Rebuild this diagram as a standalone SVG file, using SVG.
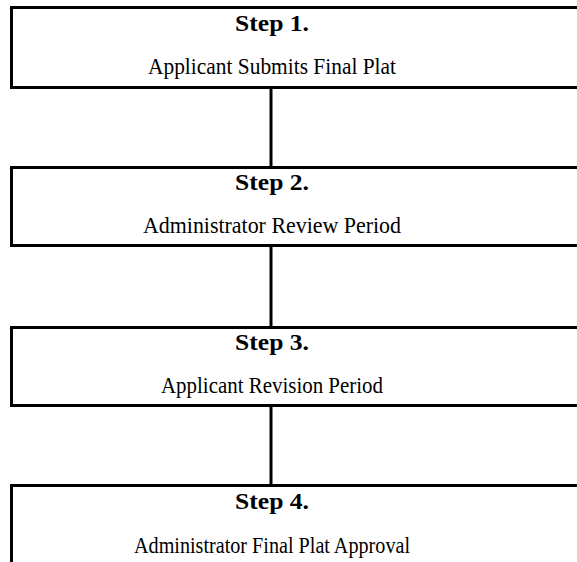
<svg xmlns="http://www.w3.org/2000/svg" width="577" height="562" viewBox="0 0 577 562">
<style>
.box{fill:#fff;stroke:#000;stroke-width:3}
.con{stroke:#000;stroke-width:3;fill:none}
.t{font-family:"Liberation Serif","Times New Roman",serif;font-size:24px;fill:#000;text-anchor:middle}
.b{font-weight:bold}
</style>
<rect width="577" height="562" fill="#fff"/>
<g id="connectors">
<line class="con" x1="271" y1="87.5" x2="271" y2="167.5"/>
<line class="con" x1="271" y1="245.5" x2="271" y2="327.5"/>
<line class="con" x1="271" y1="405.5" x2="271" y2="485.5"/>
</g>
<g id="step1">
<rect class="box" x="11.5" y="7.5" width="600" height="80"/>
<text class="t b" x="272" y="31" textLength="74" lengthAdjust="spacingAndGlyphs">Step 1.</text>
<text class="t" x="272" y="74" textLength="248" lengthAdjust="spacingAndGlyphs">Applicant Submits Final Plat</text>
</g>
<g id="step2">
<rect class="box" x="11.5" y="167.5" width="600" height="78"/>
<text class="t b" x="272" y="190" textLength="74" lengthAdjust="spacingAndGlyphs">Step 2.</text>
<text class="t" x="272" y="233" textLength="258" lengthAdjust="spacingAndGlyphs">Administrator Review Period</text>
</g>
<g id="step3">
<rect class="box" x="11.5" y="327.5" width="600" height="78"/>
<text class="t b" x="272" y="350" textLength="74" lengthAdjust="spacingAndGlyphs">Step 3.</text>
<text class="t" x="272" y="393" textLength="222" lengthAdjust="spacingAndGlyphs">Applicant Revision Period</text>
</g>
<g id="step4">
<rect class="box" x="11.5" y="485.5" width="600" height="100"/>
<text class="t b" x="272" y="509" textLength="74" lengthAdjust="spacingAndGlyphs">Step 4.</text>
<text class="t" x="272" y="553" textLength="276" lengthAdjust="spacingAndGlyphs">Administrator Final Plat Approval</text>
</g>
</svg>
